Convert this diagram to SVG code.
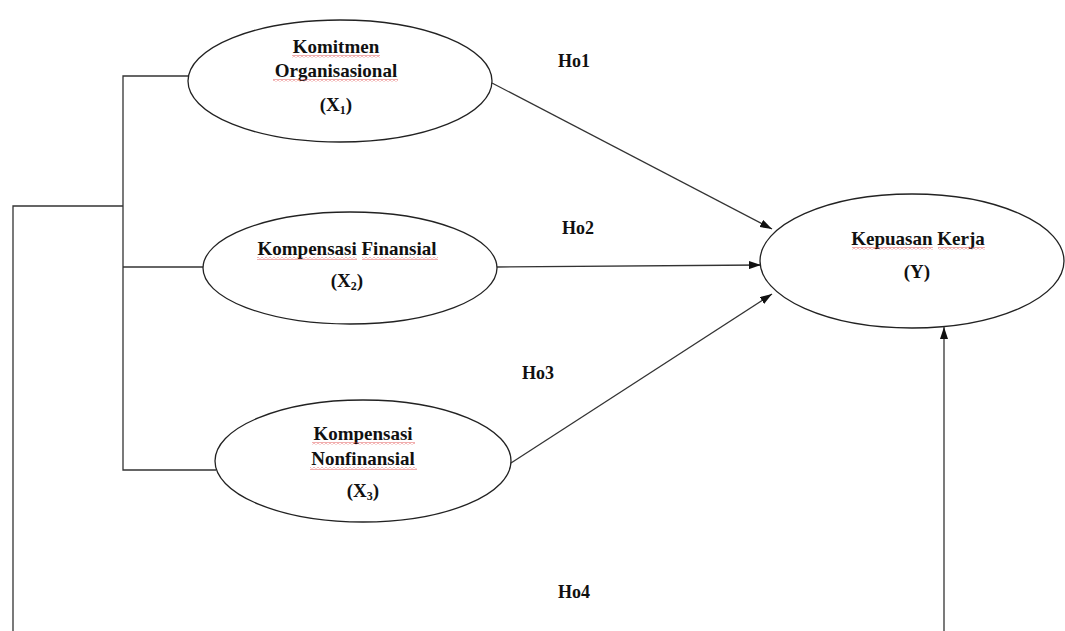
<svg xmlns="http://www.w3.org/2000/svg" width="1065" height="631" viewBox="0 0 1065 631">
<style>
.ell{fill:#fff;stroke:#222;stroke-width:1.3}
.ln{fill:none;stroke:#333;stroke-width:1.3}
.t{font-family:"Liberation Serif","Times New Roman",serif;font-weight:bold;font-size:19px;fill:#111;text-anchor:middle}
.h{font-family:"Liberation Serif","Times New Roman",serif;font-weight:bold;font-size:18px;fill:#111}
.sq{fill:url(#wave)}
</style>
<defs>
<marker id="arr" viewBox="0 0 12 8" refX="12" refY="4" markerWidth="12" markerHeight="8" orient="auto" markerUnits="userSpaceOnUse">
<path d="M0,0 L12,4 L0,8 z" fill="#111"/>
</marker>
<pattern id="wave" width="4" height="3" patternUnits="userSpaceOnUse">
<path d="M0,0.5 L2,2.5 L4,0.5" fill="none" stroke="#d33" stroke-width="0.8"/>
</pattern>
</defs>
<rect width="1065" height="631" fill="#fff"/>
<g id="connectors">
<path class="ln" d="M189,76 H123 V470 H216"/>
<path class="ln" d="M123,267 H203"/>
<path class="ln" d="M123,206 H13 V631"/>
<line class="ln" x1="492" y1="83" x2="772" y2="229" marker-end="url(#arr)"/>
<line class="ln" x1="497" y1="267" x2="761" y2="265" marker-end="url(#arr)"/>
<line class="ln" x1="511" y1="463" x2="772" y2="294" marker-end="url(#arr)"/>
<line class="ln" x1="944" y1="631" x2="944" y2="327" marker-end="url(#arr)"/>
</g>
<g id="node-x1">
<ellipse class="ell" cx="340" cy="81" rx="152" ry="61"/>
<text class="t" x="336" y="53">Komitmen</text>
<text class="t" x="336" y="77">Organisasional</text>
<text class="t" x="336" y="111">(X<tspan font-size="12" dy="3">1</tspan><tspan dy="-3">)</tspan></text>
<rect class="sq" x="292" y="55" width="88" height="3"/>
<rect class="sq" x="273" y="79" width="125" height="3"/>
</g>
<g id="node-x2">
<ellipse class="ell" cx="350" cy="268" rx="147" ry="56"/>
<text class="t" x="347" y="255">Kompensasi Finansial</text>
<text class="t" x="347" y="287">(X<tspan font-size="12" dy="3">2</tspan><tspan dy="-3">)</tspan></text>
<rect class="sq" x="257" y="257" width="100" height="3"/>
<rect class="sq" x="362" y="257" width="76" height="3"/>
</g>
<g id="node-x3">
<ellipse class="ell" cx="363" cy="461" rx="148" ry="61"/>
<text class="t" x="363" y="440">Kompensasi</text>
<text class="t" x="363" y="465">Nonfinansial</text>
<text class="t" x="363" y="497">(X<tspan font-size="12" dy="3">3</tspan><tspan dy="-3">)</tspan></text>
<rect class="sq" x="312" y="442" width="103" height="3"/>
<rect class="sq" x="310" y="467" width="107" height="3"/>
</g>
<g id="node-y">
<ellipse class="ell" cx="912" cy="261" rx="152" ry="67"/>
<text class="t" x="918" y="245">Kepuasan Kerja</text>
<text class="t" x="917" y="278">(Y)</text>
<rect class="sq" x="852" y="247" width="81" height="3"/>
<rect class="sq" x="938" y="247" width="47" height="3"/>
</g>
<g id="labels">
<text class="h" x="558" y="67">Ho1</text>
<text class="h" x="562" y="234">Ho2</text>
<text class="h" x="522" y="379">Ho3</text>
<text class="h" x="558" y="598">Ho4</text>
</g>
</svg>
